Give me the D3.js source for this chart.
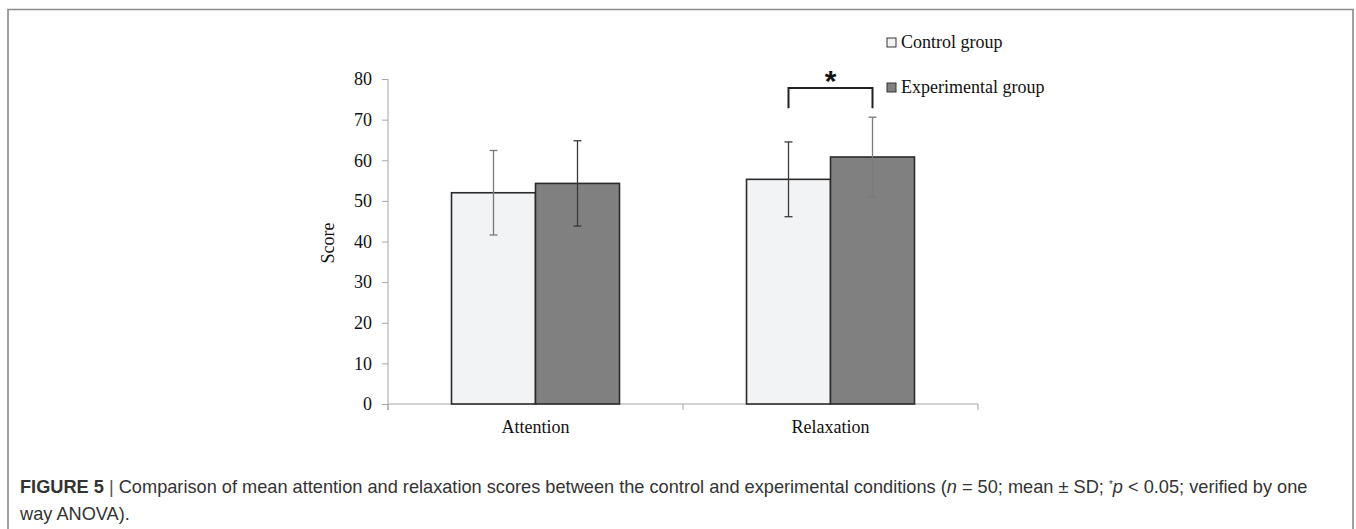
<!DOCTYPE html>
<html><head><meta charset="utf-8">
<script src="https://cdn.jsdelivr.net/npm/d3@7"></script>
<style>html,body{margin:0;padding:0;background:#fff;}svg{display:block;}</style>
</head><body>
<svg id="chart" width="1356" height="529"></svg>
<script>
const categories = ["Attention", "Relaxation"];
const seriesNames = ["Control group", "Experimental group"];
const controlMeans = [52.0, 55.3];
const controlSD = [10.4, 9.2];
const experimentalMeans = [54.3, 60.8];
const experimentalSD = [10.5, 9.8];
const yTicks = [0, 10, 20, 30, 40, 50, 60, 70, 80];

const svg = d3.select("#chart");
const serif = "'Liberation Serif','Times New Roman',serif";
const sans = "'Liberation Sans',Arial,sans-serif";

// frame
svg.append("path").attr("d", "M8,529 V9.5 H1353 V529")
  .attr("fill", "none").attr("stroke", "#8a8a8a").attr("stroke-width", 1.6);

const x0 = 388, x1 = 978, yTop = 79, yBot = 404;
const x = d3.scaleBand().domain(categories).range([x0, x1]);
const xs = d3.scaleBand().domain(seriesNames).range([0, x.bandwidth()]).paddingInner(0).paddingOuter(0.756);
const y = d3.scaleLinear().domain([0, 80]).range([yBot, yTop]);

const axisColor = "#a6a6a6";
// y axis
const yAxis = svg.append("g").attr("transform", `translate(${x0},0)`)
  .call(d3.axisLeft(y).tickValues(yTicks).tickSize(6).tickPadding(10));
yAxis.select(".domain").attr("stroke", axisColor).attr("d", `M0,${yTop}V${yBot + 6}`);
yAxis.selectAll(".tick line").attr("stroke", axisColor);
yAxis.selectAll(".tick text").attr("font-family", serif).attr("font-size", 18).attr("fill", "#111");

// x axis
const xAxisG = svg.append("g").attr("transform", `translate(0,${yBot})`);
xAxisG.append("line").attr("x1", x0).attr("x2", x1).attr("stroke", axisColor);
const boundaries = [x0, ...categories.map(c => x(c) + x.bandwidth())];
xAxisG.selectAll(".bt").data(boundaries).join("line")
  .attr("x1", d => d).attr("x2", d => d).attr("y1", 0).attr("y2", 6).attr("stroke", axisColor);
xAxisG.selectAll(".cl").data(categories).join("text")
  .attr("x", d => x(d) + x.bandwidth() / 2).attr("y", 29)
  .attr("text-anchor", "middle").attr("font-family", serif).attr("font-size", 18).attr("fill", "#111")
  .text(d => d);

// y label
svg.append("text").attr("transform", `translate(334,243) rotate(-90)`)
  .attr("text-anchor", "middle").attr("font-family", serif).attr("font-size", 18).attr("fill", "#111")
  .text("Score");

const fills = ["#f2f3f5", "#808080"];
const data = [];
categories.forEach((c, i) => {
  data.push({cat: c, s: seriesNames[0], m: controlMeans[i], sd: controlSD[i], k: 0});
  data.push({cat: c, s: seriesNames[1], m: experimentalMeans[i], sd: experimentalSD[i], k: 1});
});

svg.selectAll(".bar").data(data).join("rect")
  .attr("x", d => x(d.cat) + xs(d.s)).attr("width", xs.bandwidth())
  .attr("y", d => y(d.m)).attr("height", d => y(0) - y(d.m))
  .attr("fill", d => fills[d.k]).attr("stroke", "#2b2b2b").attr("stroke-width", 1.6);

const errColor = (d, i) => (i === 0 || i === 3) ? "#7a7a7a" : "#3a3a3a";
const eb = svg.selectAll(".eb").data(data).join("g")
  .attr("stroke", errColor).attr("stroke-width", 1.3);
eb.append("line").attr("x1", d => x(d.cat) + xs(d.s) + xs.bandwidth() / 2)
  .attr("x2", d => x(d.cat) + xs(d.s) + xs.bandwidth() / 2)
  .attr("y1", d => y(d.m + d.sd)).attr("y2", d => y(d.m - d.sd));
[1, -1].forEach(sg => {
  eb.append("line")
    .attr("x1", d => x(d.cat) + xs(d.s) + xs.bandwidth() / 2 - 4)
    .attr("x2", d => x(d.cat) + xs(d.s) + xs.bandwidth() / 2 + 4)
    .attr("y1", d => y(d.m + sg * d.sd)).attr("y2", d => y(d.m + sg * d.sd));
});

// significance bracket on Relaxation
const rc = x("Relaxation");
const bl = rc + xs(seriesNames[0]) + xs.bandwidth() / 2;
const br = rc + xs(seriesNames[1]) + xs.bandwidth() / 2;
const bTop = y(77.8), bLeg = y(72.8);
svg.append("path").attr("d", `M${bl},${bLeg}V${bTop}H${br}V${bLeg}`)
  .attr("fill", "none").attr("stroke", "#222").attr("stroke-width", 2);
svg.append("text").attr("x", (bl + br) / 2).attr("y", bTop + 3)
  .attr("text-anchor", "middle").attr("font-family", sans).attr("font-size", 30).attr("font-weight", "bold").attr("fill", "#111")
  .text("*");

// legend
const leg = svg.selectAll(".leg").data(seriesNames).join("g")
  .attr("transform", (d, i) => `translate(887,${38 + i * 45})`);
leg.append("rect").attr("width", 9).attr("height", 9)
  .attr("fill", (d, i) => fills[i]).attr("stroke", "#333").attr("stroke-width", 1);
leg.append("text").attr("x", 14).attr("y", 10).attr("font-family", serif).attr("font-size", 18).attr("fill", "#111")
  .text(d => d);

// caption
const capSize = 18.2;
const cap = svg.append("text").attr("x", 20).attr("y", 493).attr("font-family", sans).attr("font-size", capSize).attr("fill", "#333");
cap.append("tspan").attr("font-weight", "bold").text("FIGURE 5");
cap.append("tspan").text(" | ").attr("fill", "#555");
cap.append("tspan").text("Comparison of mean attention and relaxation scores between the control and experimental conditions (");
cap.append("tspan").attr("font-style", "italic").text("n");
cap.append("tspan").text(" = 50; mean ± SD; ");
cap.append("tspan").attr("baseline-shift", "super").attr("font-size", 10).text("*");
cap.append("tspan").attr("font-style", "italic").text("p");
cap.append("tspan").text(" < 0.05; verified by one");
svg.append("text").attr("x", 20).attr("y", 520).attr("font-family", sans).attr("font-size", capSize).attr("fill", "#333")
  .text("way ANOVA).");
</script>
</body></html>
